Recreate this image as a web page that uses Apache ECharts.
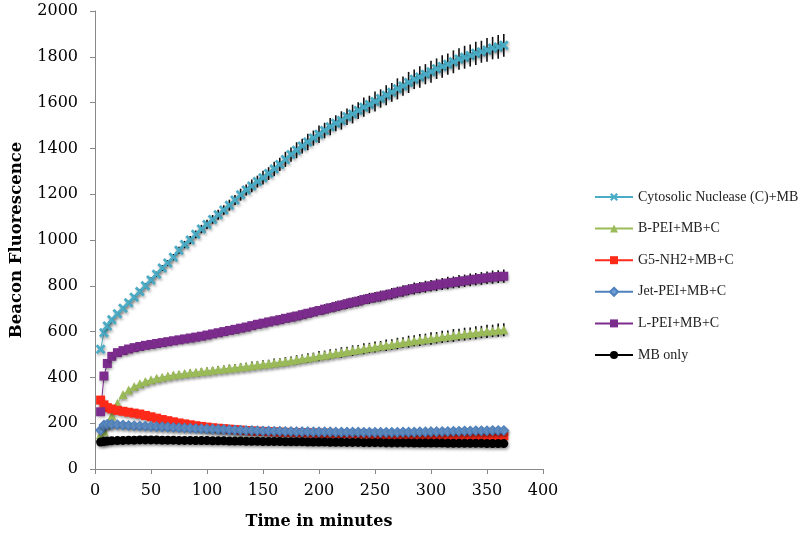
<!DOCTYPE html>
<html>
<head>
<meta charset="utf-8">
<script src="https://cdn.jsdelivr.net/npm/echarts@6/dist/echarts.min.js"></script>
<style>html,body{margin:0;padding:0;background:#fff}#c{width:800px;height:538px}</style>
</head>
<body>
<div id="c"></div>
<script>
const times = [5,8,11,15,20,25,30,35,40,45,50,55,60,65,70,75,80,85,90,95,100,105,110,115,120,125,130,135,140,145,150,155,160,165,170,175,180,185,190,195,200,205,210,215,220,225,230,235,240,245,250,255,260,265,270,275,280,285,290,295,300,305,310,315,320,325,330,335,340,345,350,355,360,365];

const cytosolic = [523,595,625,652,678,702,726,750,775,800,825,850,878,900,925,955,980,1000,1025,1048,1068,1090,1110,1131,1152,1175,1198,1218,1236,1255,1272,1290,1310,1330,1352,1373,1392,1410,1428,1445,1462,1478,1495,1510,1522,1538,1550,1565,1580,1592,1605,1618,1632,1645,1660,1672,1688,1702,1712,1724,1735,1748,1758,1768,1778,1790,1798,1806,1815,1822,1830,1838,1843,1850];
const cytosolicErr = [6,6,6,7,8,8,9,10,10,11,12,12,13,13,14,15,16,17,17,18,20,19,22,21,24,22,26,24,28,26,30,28,32,29,33,31,35,32,36,33,38,34,38,35,40,36,41,37,42,38,44,40,44,41,46,42,46,43,47,44,48,45,49,46,50,47,50,48,51,48,52,49,52,50];

const bPEI = [152,165,195,232,287,325,345,360,372,382,390,396,401,406,410,414,417,420,423,426,428,431,434,437,440,442,445,448,451,454,457,460,463,466,469,473,477,481,485,489,493,497,501,505,509,513,517,521,525,529,533,537,540,544,548,552,556,560,563,567,570,573,577,580,583,586,589,592,595,598,601,603,606,608];
const bPEIErr = [5,5,6,6,7,8,8,9,9,10,10,11,11,12,12,13,12,14,13,14,15,14,16,15,16,15,17,16,18,17,18,17,19,18,20,18,20,19,21,19,22,20,22,20,23,21,23,21,24,22,24,22,25,23,25,23,26,24,26,24,27,25,27,25,28,26,28,26,28,27,29,27,29,28];

const g5NH2 = [301,280,268,262,256,252,248,244,240,234,228,222,216,211,206,201,197,193,189,186,183,180,178,176,174,172,170,168,166,165,164,163,162,161,160,159,159,158,158,157,157,156,156,155,155,154,154,153,153,152,152,151,151,150,150,150,149,149,149,148,148,148,147,147,147,146,146,146,146,145,145,145,145,145];

const jetPEI = [170,192,195,195,193,192,190,189,188,187,186,185,184,183,181,180,179,178,177,176,175,174,173,172,171,170,169,168,168,167,166,166,165,165,164,164,163,163,163,162,162,162,162,161,161,161,161,161,160,160,160,160,160,160,160,161,161,161,162,162,163,163,164,164,165,165,166,166,167,167,167,168,168,168];

const lPEI = [250,406,461,492,508,517,524,530,535,540,544,548,552,556,560,564,568,572,576,580,585,590,595,600,605,610,615,620,626,632,637,642,647,652,658,663,668,674,680,686,692,698,704,710,716,722,728,733,740,745,750,755,760,765,772,777,783,788,792,796,800,804,808,812,815,819,822,826,829,832,835,838,840,842];
const lPEIErr = [6,8,9,10,10,11,11,12,12,13,13,14,13,15,14,15,14,16,15,16,15,17,16,17,16,18,17,18,17,19,18,19,18,20,19,20,19,21,20,21,20,22,21,22,21,23,22,23,22,24,23,24,23,25,24,25,24,26,25,26,25,27,26,27,26,28,27,28,27,28,27,29,28,29];

const mbOnly = [118,120,122,123,124,125,126,126,127,127,127,127,126,126,126,125,125,125,124,124,124,123,123,123,122,122,122,121,121,121,120,120,120,120,119,119,119,119,118,118,118,118,117,117,117,116,116,116,115,115,115,115,114,114,114,114,114,113,113,113,113,113,113,112,112,112,112,112,112,112,111,111,111,111];

const seriesNames = ['Cytosolic Nuclease (C)+MB','B-PEI+MB+C','G5-NH2+MB+C','Jet-PEI+MB+C','L-PEI+MB+C','MB only'];
const xTicks = [0,50,100,150,200,250,300,350,400];
const yTicks = [0,200,400,600,800,1000,1200,1400,1600,1800,2000];

const pairs = (vals) => times.map((t,i) => [t, vals[i]]);
const errPairs = (vals, errs) => times.map((t,i) => [t, vals[i]-errs[i], vals[i]+errs[i]]);

const chart = echarts.init(document.getElementById('c'));
const serif = 'DejaVu Serif';
const shadow = {shadowColor:'rgba(0,0,0,0.35)', shadowBlur:3, shadowOffsetY:2, shadowOffsetX:1};

function errSeries(vals, errs) {
  return {
    type:'custom', silent:true, z:1, legendHoverLink:false,
    data: errPairs(vals, errs),
    renderItem: function(params, api) {
      const p1 = api.coord([api.value(0), api.value(1)]);
      const p2 = api.coord([api.value(0), api.value(2)]);
      return {type:'line', shape:{x1:p1[0],y1:p1[1],x2:p2[0],y2:p2[1]}, style:{stroke:'#111', lineWidth:1.6}};
    },
    tooltip:{show:false}
  };
}

function lineSeries(name, vals, color, symbol, size, extra) {
  return Object.assign({
    name: name, type:'line', z:3,
    data: pairs(vals),
    symbol: symbol, symbolSize: size,
    lineStyle: Object.assign({color: color, width: 1}, shadow),
    itemStyle: Object.assign({color: color}, shadow),
    emphasis:{disabled:true},
    animation:false
  }, extra || {});
}

const xPath = 'path://M0,2L2,0L5,3L8,0L10,2L7,5L10,8L8,10L5,7L2,10L0,8L3,5Z';

chart.setOption({
  animation:false,
  grid:{left:92, right:257, top:11, bottom:69, containLabel:false},
  xAxis:{
    type:'value', min:0, max:400, interval:50,
    name:'Time in minutes', nameLocation:'middle', nameGap:45,
    nameTextStyle:{fontFamily:serif, fontWeight:'bold', fontSize:16, color:'#000'},
    axisLine:{show:true, onZero:false, lineStyle:{color:'#888', width:1}},
    axisTick:{show:true, length:5, lineStyle:{color:'#888'}},
    axisLabel:{fontFamily:serif, fontSize:16, color:'#000', margin:14,
      formatter: v => xTicks.includes(v) ? String(v) : ''},
    splitLine:{show:false}
  },
  yAxis:{
    type:'value', min:0, max:2000, interval:200,
    name:'Beacon Fluorescence', nameLocation:'middle', nameGap:70,
    nameTextStyle:{fontFamily:serif, fontWeight:'bold', fontSize:16.5, color:'#000'},
    axisLine:{show:true, lineStyle:{color:'#888', width:1}},
    axisTick:{show:true, length:5, lineStyle:{color:'#888'}},
    axisLabel:{fontFamily:serif, fontSize:16, color:'#000', margin:17,
      formatter: v => yTicks.includes(v) ? String(v) : ''},
    splitLine:{show:false}
  },
  legend:{
    orient:'vertical', left:594, top:190, padding:0,
    itemWidth:38, itemHeight:10, itemGap:17.6,
    textStyle:{fontFamily:'Liberation Serif', fontSize:14, color:'#222'},
    data: seriesNames
  },
  series:[
    errSeries(cytosolic, cytosolicErr),
    errSeries(bPEI, bPEIErr),
    errSeries(lPEI, lPEIErr),
    lineSeries(seriesNames[0], cytosolic, '#4bacc6', xPath, 10),
    lineSeries(seriesNames[1], bPEI, '#9bbb59', 'triangle', 9),
    lineSeries(seriesNames[2], g5NH2, '#ff2a1a', 'rect', 9),
    lineSeries(seriesNames[3], jetPEI, '#4f81bd', 'diamond', 9, {itemStyle:Object.assign({color:'#6fa0d8', borderColor:'#4f81bd', borderWidth:1.5}, shadow)}),
    lineSeries(seriesNames[4], lPEI, '#7b2c8c', 'rect', 9),
    lineSeries(seriesNames[5], mbOnly, '#000000', 'circle', 9)
  ]
});
</script>
</body>
</html>
